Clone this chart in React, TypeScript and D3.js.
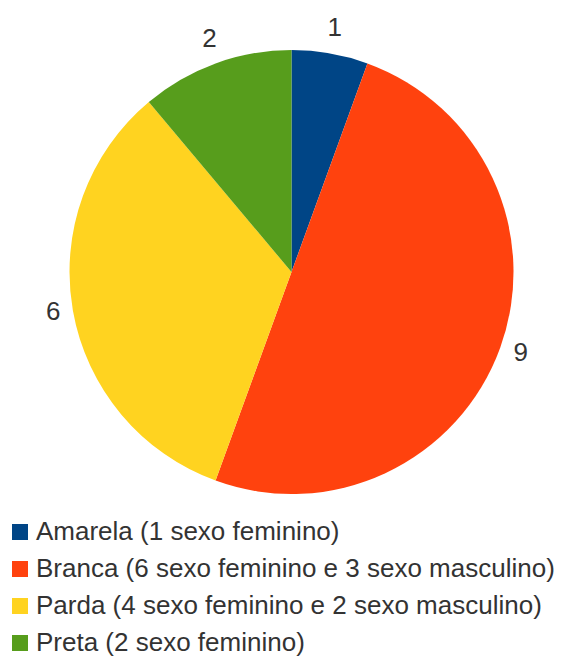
import React from "react";
import * as d3 from "d3";

const categories = ["Amarela", "Branca", "Parda", "Preta"];
const values = [1, 9, 6, 2];
const legendLabels = [
  "Amarela (1 sexo feminino)",
  "Branca (6 sexo feminino e 3 sexo masculino)",
  "Parda (4 sexo feminino e 2 sexo masculino)",
  "Preta (2 sexo feminino)",
];
const colors = ["#004586", "#ff420e", "#ffd320", "#579d1c"];

const W = 563;
const H = 660;
const cx = 291.5;
const cy = 272;
const R = 222;
const labelR = 236;
const hw = 7;
const hh = 9.5;

export default function App() {
  const data = categories.map((c, i) => ({ c, v: values[i], color: colors[i] }));
  const pie = d3.pie<any>().value((d) => d.v).sort(null);
  const arcs = pie(data);
  const arcGen = d3.arc<any>().innerRadius(0).outerRadius(R);
  const legendY = d3.scaleLinear().domain([0, 1]).range([532, 569]);
  return (
    <svg
      width={W}
      height={H}
      style={{ position: "absolute", left: 0, top: 0, display: "block" }}
      fontFamily="'Liberation Sans', Arial, sans-serif"
    >
      <rect width={W} height={H} fill="#ffffff" />
      <g transform={`translate(${cx},${cy})`}>
        {arcs.map((a, i) => (
          <path key={i} d={arcGen(a) as string} fill={a.data.color} />
        ))}
        {arcs.map((a, i) => {
          const m = (a.startAngle + a.endAngle) / 2;
          const dx = Math.sin(m);
          const dy = -Math.cos(m);
          const x = dx * labelR + dx * hw + 1;
          const y = dy * labelR + dy * hh - 3.5;
          return (
            <text
              key={i}
              x={x}
              y={y}
              textAnchor="middle"
              dominantBaseline="central"
              fontSize={26}
              fill="#333333"
            >
              {a.data.v}
            </text>
          );
        })}
      </g>
      {legendLabels.map((l, i) => (
        <g key={i} transform={`translate(0,${legendY(i)})`}>
          <rect x={12} y={-8} width={16} height={16} fill={colors[i]} />
          <text x={36} y={-1} dominantBaseline="central" fontSize={26} fill="#333333">
            {l}
          </text>
        </g>
      ))}
    </svg>
  );
}
